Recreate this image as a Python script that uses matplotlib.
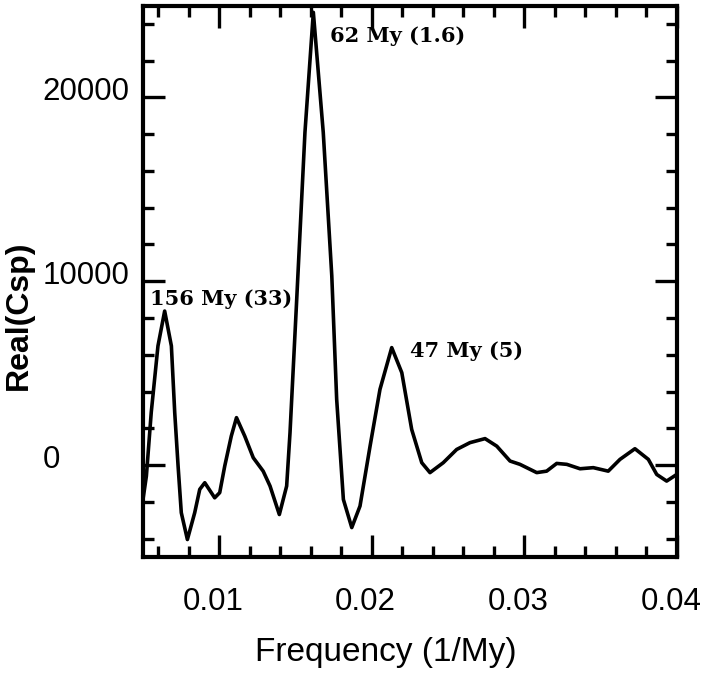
import matplotlib
matplotlib.use("Agg")
import matplotlib.pyplot as plt
import matplotlib.transforms as mtransforms
from matplotlib.ticker import MultipleLocator

# cross-spectrum real part
freq = [0.00500, 0.00522, 0.00554, 0.00598, 0.00642, 0.00686, 0.00708, 0.00730,
        0.00751, 0.00791, 0.00839, 0.00872, 0.00905, 0.00970, 0.01003, 0.01036,
        0.01079, 0.01113, 0.01167, 0.01223, 0.01288, 0.01333, 0.01394, 0.01442,
        0.01464, 0.01486, 0.01508, 0.01562, 0.01617, 0.01682, 0.01738, 0.01770,
        0.01814, 0.01869, 0.01923, 0.01989, 0.02054, 0.02131, 0.02197, 0.02262,
        0.02328, 0.02382, 0.02469, 0.02557, 0.02644, 0.02743, 0.02820, 0.02907,
        0.02972, 0.03082, 0.03147, 0.03213, 0.03279, 0.03366, 0.03453, 0.03551,
        0.03628, 0.03726, 0.03814, 0.03869, 0.03934, 0.04000]
real_csp = [-1860, -600, 2870, 6480, 8380, 6480, 2850, -50,
            -2590, -4050, -2590, -1320, -960, -1780, -1500, -50,
            1580, 2580, 1580, 400, -330, -1140, -2690, -1140,
            1760, 5390, 9020, 18100, 24630, 18100, 10290, 3580,
            -1870, -3400, -2230, 1030, 4120, 6390, 5030, 1940,
            130, -410, 130, 850, 1220, 1440, 1030, 220,
            40, -410, -330, 90, 40, -200, -140, -330,
            310, 890, 310, -510, -870, -510]

peak_labels = ["156 My (33)", "62 My (1.6)", "47 My (5)"]
peak_x = [0.00546, 0.01726, 0.02251]
peak_y = [9010, 23340, 6190]

fig = plt.figure(figsize=(7.08, 6.74), dpi=100)
ax = fig.add_axes([0.202, 0.1736, 0.7538, 0.8182])

ax.plot(freq, real_csp, color="black", linewidth=2.6)

for txt, px, py in zip(peak_labels, peak_x, peak_y):
    ax.text(px, py, txt, fontsize=15, fontweight="bold", family="DejaVu Serif",
            ha="left", va="center")

ax.set_xlim(0.005, 0.04)
ax.set_ylim(-5000, 25000)
ax.xaxis.set_major_locator(MultipleLocator(0.01))
ax.xaxis.set_minor_locator(MultipleLocator(0.002))
ax.yaxis.set_major_locator(MultipleLocator(10000))
ax.yaxis.set_minor_locator(MultipleLocator(2000))
ax.set_xticklabels
ax.xaxis.set_major_formatter(matplotlib.ticker.FuncFormatter(lambda v, p: "%g" % round(v, 3)))
ax.yaxis.set_major_formatter(matplotlib.ticker.FuncFormatter(lambda v, p: "%d" % v))

for s in ax.spines.values():
    s.set_linewidth(3)

ax.tick_params(which="both", direction="in", top=True, right=True, width=2.4)
ax.tick_params(which="major", length=16)
ax.tick_params(which="minor", length=8)
ax.tick_params(axis="x", which="major", pad=21.5, labelsize=22.5)
ax.tick_params(axis="y", which="major", pad=72.5, labelsize=22.5)

for lab in ax.get_xticklabels() + ax.get_yticklabels():
    lab.set_family("Liberation Sans")
for lab in ax.get_yticklabels():
    lab.set_horizontalalignment("left")
    lab.set_transform(lab.get_transform() + mtransforms.ScaledTranslation(0, 9 / 100, fig.dpi_scale_trans))
for lab in ax.get_xticklabels():
    lab.set_transform(lab.get_transform() + mtransforms.ScaledTranslation(-6 / 100, 0, fig.dpi_scale_trans))

ax.set_xlabel("Frequency (1/My)", fontsize=24, family="Liberation Sans", va="center")
ax.xaxis.set_label_coords(0.455, -0.174)
ax.set_ylabel("Real(Csp)", fontsize=23, fontweight="bold", family="Liberation Sans", va="center")
ax.yaxis.set_label_coords(-0.232, 0.439)

fig.savefig("out.png", dpi=100)
